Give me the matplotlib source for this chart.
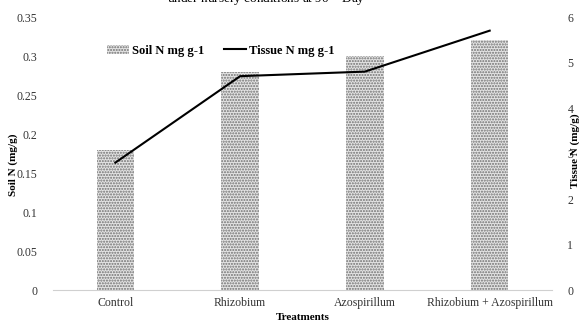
import matplotlib.pyplot as plt
import numpy as np

plt.rcParams['font.family'] = ['Liberation Serif', 'DejaVu Serif']
plt.rcParams['hatch.linewidth'] = 1.0

treatments = ['Control', 'Rhizobium', 'Azospirillum', 'Rhizobium + Azospirillum']
soil_n = [0.18, 0.28, 0.30, 0.32]
tissue_n = [2.8, 4.7, 4.8, 5.7]

x = np.arange(len(treatments))

fig = plt.figure(figsize=(5.79, 3.27), dpi=100)
ax = fig.add_axes([0.0915, 0.113, 0.862, 0.835])
ax2 = ax.twinx()

bars = ax.bar(x, soil_n, width=0.3, color='#e4e4e4', edgecolor='#707070',
              hatch='......', linewidth=0, label='Soil N mg g-1')
line, = ax2.plot(x, tissue_n, color='black', lw=1.5, label='Tissue N mg g-1')

ax.set_xlim(-0.5, 3.5)
ax.set_ylim(0, 0.35)
ax.set_yticks(np.arange(0, 0.351, 0.05))
ax.set_yticklabels(['0', '0.05', '0.1', '0.15', '0.2', '0.25', '0.3', '0.35'])
ax2.set_ylim(0, 6)
ax2.set_yticks(range(0, 7))

ax.set_xticks(x)
ax.set_xticklabels(treatments)

for a in (ax, ax2):
    for s in a.spines.values():
        s.set_visible(False)
    a.tick_params(length=0, labelsize=8.5, colors='#333333', pad=11)
ax.tick_params(axis='x', pad=5)
ax.spines['bottom'].set_visible(True)
ax.spines['bottom'].set_color('#d0d0d0')

ax.set_xlabel('Treatments', fontsize=8, fontweight='bold', labelpad=3)
ax.set_ylabel('Soil N (mg/g)', fontsize=8, fontweight='bold')
ax2.set_ylabel('Tissue N (mg/g)', fontsize=8, fontweight='bold')
ax.yaxis.set_label_coords(-0.07, 0.46)
ax2.yaxis.set_label_coords(1.036, 0.51)

ax.legend([bars, line], ['Soil N mg g-1', 'Tissue N mg g-1'], ncol=2,
          loc='upper left', bbox_to_anchor=(0.085, 0.94), frameon=False,
          prop={'weight': 'bold', 'size': 9}, handlelength=1.8,
          handletextpad=0.2, columnspacing=1.6)

fig.text(0.46, 1.005, 'under nursery conditions at 90$^{th}$ Day',
         ha='center', va='center', fontsize=9.5)

fig.savefig('out.png', dpi=100)
